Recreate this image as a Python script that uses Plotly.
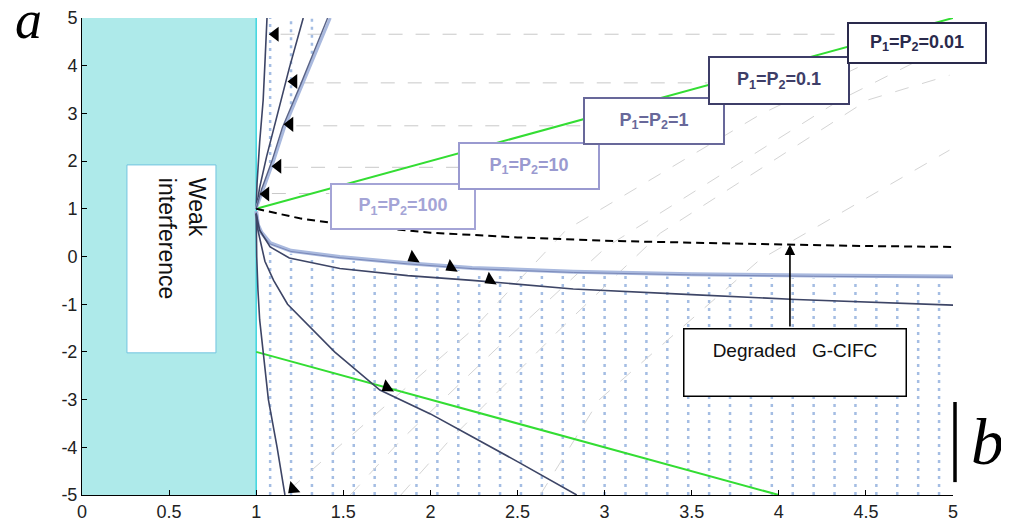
import numpy as np
import plotly.graph_objects as go

# ---------------- data ----------------
X_TICKS = [0, 0.5, 1, 1.5, 2, 2.5, 3, 3.5, 4, 4.5, 5]
Y_TICKS = [-5, -4, -3, -2, -1, 0, 1, 2, 3, 4, 5]

# green straight lines
GREEN_UP_B = [1.0, 5.0]
GREEN_UP_A = [1.0, 5.0]
GREEN_LO_B = [1.0, 4.0]
GREEN_LO_A = [-2.0, -5.0]

# black dashed boundary
DASH_B = [1.0, 1.25, 1.5, 2.0, 2.5, 3.0, 3.5, 4.0, 4.5, 5.0]
DASH_A = [1.0, 0.8, 0.67, 0.5, 0.4, 0.33, 0.29, 0.25, 0.22, 0.2]

# steep upper curves
U1_B = [1.0, 1.005, 1.02, 1.04, 1.052, 1.062]
U1_A = [1.0, 1.54, 2.4, 3.28, 4.2, 5.0]
U2_B = [1.0, 1.02, 1.06, 1.12, 1.19, 1.27]
U2_A = [1.0, 1.45, 2.1, 2.95, 3.95, 5.0]
U3_B = [1.0, 1.03, 1.09, 1.15, 1.26, 1.41]
U3_A = [1.0, 1.4, 2.0, 2.7, 3.65, 5.0]
U3L_B = [1.0, 1.04, 1.10, 1.162, 1.272, 1.425]
U3L_A = [1.0, 1.4, 2.0, 2.7, 3.65, 5.0]

# lower flat curves
L1_B = [1.0, 1.01, 1.03, 1.08, 1.2, 1.48, 1.87, 2.24, 2.82, 3.5, 4.2, 5.0]
L1_A = [0.95, 0.66, 0.5, 0.28, 0.12, -0.01, -0.14, -0.24, -0.32, -0.37, -0.40, -0.42]
L2_B = [1.0, 1.02, 1.08, 1.19, 1.48, 1.87, 2.24, 2.82, 3.5, 4.1, 5.0]
L2_A = [0.9, 0.55, 0.2, -0.03, -0.25, -0.40, -0.50, -0.68, -0.80, -0.90, -1.02]

# steep falling curves
D1_B = [1.0, 1.003, 1.01, 1.02, 1.04, 1.07, 1.12, 1.165]
D1_A = [0.9, 0.0, -0.7, -1.33, -2.0, -3.0, -4.0, -5.0]
D2_B = [1.0, 1.01, 1.05, 1.1, 1.18, 1.27, 1.45, 1.71, 2.0, 2.24, 2.5, 2.84]
D2_A = [0.9, 0.55, -0.1, -0.5, -1.0, -1.33, -2.0, -2.8, -3.3, -3.78, -4.3, -5.0]

# faint diagonal dashed guide curves
DIAG_B = [
    [1.19, 2.24, 2.78, 3.26, 3.89, 4.52, 4.98],
    [1.54, 1.83, 2.4, 3.01, 4.35, 4.98],
    [1.83, 2.11, 2.74, 3.32, 4.51, 4.98],
    [2.63, 2.97, 3.89, 4.98],
]
DIAG_A = [
    [-4.89, -1.54, 0.56, 1.6, 2.97, 4.08, 4.75],
    [-5.0, -3.85, -1.86, 0.2, 3.28, 4.44],
    [-5.0, -3.85, -1.54, 0.49, 3.28, 3.8],
    [-5.0, -3.0, -0.07, 2.23],
]

# horizontal dashed leaders (from the arrow heads to the P labels)
LEAD_B0 = [1.14, 1.25, 1.23, 1.16, 1.09]
LEAD_B1 = [4.39, 3.59, 2.88, 2.16, 1.42]
LEAD_A = [4.66, 3.64, 2.74, 1.87, 1.32]

# arrow heads
ARROW_B = [1.11, 1.217, 1.194, 1.125, 1.056, 1.90, 2.118, 2.342, 1.751, 1.211]
ARROW_A = [4.66, 3.67, 2.77, 1.89, 1.31, -0.03, -0.22, -0.49, -2.74, -4.87]
ARROW_ANG = [0, 0, 0, 0, 0, -32, -32, -32, -35, -42]

# labels
P_LABELS = ["P<sub>1</sub>=P<sub>2</sub>=100", "P<sub>1</sub>=P<sub>2</sub>=10",
            "P<sub>1</sub>=P<sub>2</sub>=1", "P<sub>1</sub>=P<sub>2</sub>=0.1",
            "P<sub>1</sub>=P<sub>2</sub>=0.01"]
P_LABEL_B = [1.843, 2.566, 3.284, 4.001, 4.793]
P_LABEL_A = [1.048, 1.897, 2.84, 3.69, 4.476]
P_COLORS = ["#a4a4d6", "#9a9ad0", "#68689a", "#3e3e68", "#2a2a4c"]
P_W = [142, 138, 138, 138, 136]
P_H = [43, 44, 44, 45, 38]

# ---------------- figure ----------------
fig = go.Figure()

DARK = "#3d4566"
LIGHT = "#a9b9de"


def line(b, a, color, width=1.5, dash="solid"):
    fig.add_trace(go.Scatter(x=b, y=a, mode="lines",
                             line=dict(color=color, width=width, dash=dash),
                             hoverinfo="skip", showlegend=False))


# dotted vertical hatching (texture)
hatch_x = np.round(np.arange(1.08, 4.93, 0.12), 3)
hx, hy = [], []
for x in hatch_x:
    top = float(np.interp(x, L1_B, L1_A)) - 0.06
    hx += [x, x, None]
    hy += [-5, top, None]
for x in hatch_x:
    if x < U3_B[-1]:
        bot = float(np.interp(x, U3_B, U3_A)) + 0.06
        hx += [x, x, None]
        hy += [bot, 5, None]
fig.add_trace(go.Scatter(x=hx, y=hy, mode="lines",
                         line=dict(color="#a4bde3", width=2.5, dash="3px,5px"),
                         hoverinfo="skip", showlegend=False))

# faint diagonal dashed curves
for b, a in zip(DIAG_B, DIAG_A):
    line(b, a, "#d4d4d4", 1, "14px,14px")

# horizontal leaders
for b0, b1, a in zip(LEAD_B0, LEAD_B1, LEAD_A):
    line([b0, b1], [a, a], "#c8c8c8", 1, "14px,13px")

# green lines
line(GREEN_UP_B, GREEN_UP_A, "#33dd33", 2)
line(GREEN_LO_B, GREEN_LO_A, "#33dd33", 2)

# curves
line(L1_B, L1_A, LIGHT, 4)
line(L1_B, [v - 0.015 for v in L1_A], "#7a88b8", 1)
line(L2_B, L2_A, DARK, 1.6)
line(D1_B, D1_A, DARK, 1.6)
line(D2_B, D2_A, DARK, 1.6)
line(U1_B, U1_A, DARK, 1.6)
line(U2_B, U2_A, DARK, 1.6)
line(U3L_B, U3L_A, LIGHT, 3)
line(U3_B, U3_A, "#5a6488", 1.4)

# black dashed
line(DASH_B, DASH_A, "black", 2, "8px,5px")

# arrow heads
fig.add_trace(go.Scatter(x=ARROW_B, y=ARROW_A, mode="markers",
                         marker=dict(symbol="triangle-left", size=13, color="black",
                                     angle=ARROW_ANG, line=dict(width=0)),
                         hoverinfo="skip", showlegend=False))

# shapes: weak interference region and box, |b bar
fig.add_shape(type="rect", x0=0, x1=1, y0=-5, y1=5, xref="x", yref="y",
              fillcolor="#aeeaea", line=dict(width=0), layer="below")
fig.add_shape(type="line", x0=1, x1=1, y0=-5, y1=5, xref="x", yref="y",
              line=dict(color="#3fd6e0", width=1.5), layer="below")
fig.add_shape(type="rect", x0=0.258, x1=0.769, y0=-2.02, y1=1.92, xref="x", yref="y",
              fillcolor="white", line=dict(color="#72c4e0", width=1), layer="below")
fig.add_shape(type="line", x0=1.0023, x1=1.0023, y0=0.027, y1=0.195, xref="paper", yref="paper",
              line=dict(color="black", width=3.5))

annotations = []
annotations.append(dict(x=0.574, y=0.37, xref="x", yref="y", text="Weak<br>interference",
                        textangle=90, showarrow=False, align="left",
                        font=dict(family="Liberation Sans, Arial", size=23, color="#111")))
for t, b, a, c, w, h in zip(P_LABELS, P_LABEL_B, P_LABEL_A, P_COLORS, P_W, P_H):
    annotations.append(dict(x=b, y=a, xref="x", yref="y", text="<b>" + t + "</b>",
                            showarrow=False, bgcolor="white", bordercolor=c, borderwidth=2,
                            borderpad=0, width=w, height=h, align="center", valign="middle",
                            font=dict(family="Liberation Sans, Arial", size=18, color=c)))
# degraded arrow
annotations.append(dict(x=4.064, y=0.25, xref="x", yref="y", ax=4.064, ay=-1.5,
                        axref="x", ayref="y", text="", showarrow=True, arrowhead=2,
                        arrowsize=1.3, arrowwidth=1.6, arrowcolor="black"))
annotations.append(dict(x=4.093, y=-2.222, xref="x", yref="y",
                        text="Degraded\u00a0\u00a0\u00a0G-CIFC<br>\u00a0",
                        showarrow=False, bgcolor="white", bordercolor="black", borderwidth=1.5,
                        borderpad=0, width=221, height=66, align="center", valign="middle",
                        font=dict(family="Liberation Sans, Arial", size=19, color="#111")))
# axis letters
annotations.append(dict(x=-0.0616, y=0.995, xref="paper", yref="paper", text="<i>a</i>",
                        showarrow=False, xanchor="center", yanchor="middle",
                        font=dict(family="Liberation Serif, DejaVu Serif", size=54, color="black")))
annotations.append(dict(x=1.040, y=0.113, xref="paper", yref="paper", text="<i>b</i>",
                        showarrow=False, xanchor="center", yanchor="middle",
                        font=dict(family="Liberation Serif, DejaVu Serif", size=66, color="black")))

# the page body adds an 8px offset; the figure is sized so that the plot area lands
# where the reference has it
fig.update_layout(
    width=1001, height=520,
    margin=dict(l=74, r=56, t=10, b=33, autoexpand=False),
    paper_bgcolor="white", plot_bgcolor="white",
    annotations=annotations,
    font=dict(family="Liberation Sans, Arial", size=18, color="#222"),
)
TICKFONT = dict(family="Liberation Sans, Arial", size=18, color="#222")
fig.update_xaxes(range=[0, 5], tickvals=X_TICKS, ticktext=[f"{v:g}" for v in X_TICKS],
                 ticks="inside", ticklen=5, tickcolor="black", showgrid=False, zeroline=False,
                 showline=True, linecolor="black", linewidth=1, mirror=False, automargin=False,
                 tickfont=TICKFONT)
fig.update_yaxes(range=[-5, 5], tickvals=Y_TICKS, ticktext=[f"{v:g}" for v in Y_TICKS],
                 ticks="inside", ticklen=5, tickcolor="black", showgrid=False, zeroline=False,
                 showline=True, linecolor="black", linewidth=1, mirror=False, automargin=False,
                 tickfont=TICKFONT)

fig.write_html("out.html")
